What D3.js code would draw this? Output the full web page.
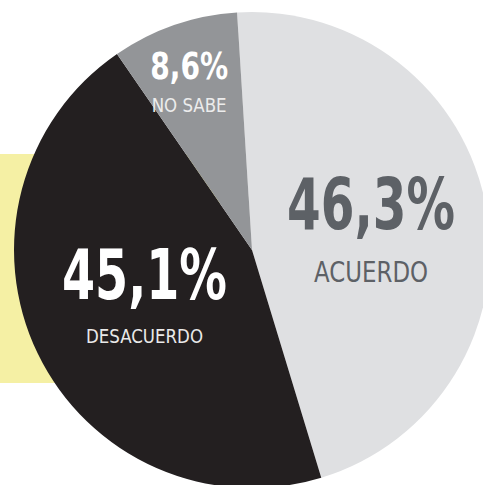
<!DOCTYPE html>
<html lang="es">
<head>
  <meta charset="utf-8">
  <title>Acuerdo / Desacuerdo</title>
  <script src="https://d3js.org/d3.v7.min.js"></script>
  <style>
    html, body { margin: 0; padding: 0; background: #ffffff; }
    svg { display: block; }
    .big { font-weight: bold; }
    text { font-family: 'Liberation Sans Narrow', 'DejaVu Sans Condensed', 'Roboto', sans-serif; }
  </style>
</head>
<body>
<div id="chart"></div>
<script>
  // data
  const categories = ["ACUERDO", "DESACUERDO", "NO SABE"];
  const values = [46.3, 45.1, 8.6];
  const valueLabels = ["46,3%", "45,1%", "8,6%"];
  const sliceColors = ["#dfe0e2", "#231f20", "#939598"];
  const textColors = ["#5d6166", "#ffffff", "#ffffff"];
  const smallColors = ["#5d6166", "#e9e9e9", "#ececec"];

  const width = 483, height = 485;
  const cx = 252, cy = 250, radius = 238;

  // label layout: radius from centre, nudge, font sizes and widths
  const labelLayout = [
    { r: 121, dx: 0,  dy: 1,  big: 71, bigW: 168, small: 28, smallW: 114, cb: 52, cs: 21 },
    { r: 116, dx: -3, dy: -5, big: 70, bigW: 165, small: 20, smallW: 117, cb: 51, cs: 15 },
    { r: 180, dx: -4, dy: 2,  big: 37, bigW: 78,  small: 19, smallW: 75,  cb: 27, cs: 14 }
  ];

  const svg = d3.select("#chart").append("svg")
    .attr("width", width)
    .attr("height", height);

  // pale yellow band behind the pie
  svg.append("rect")
    .attr("x", 0)
    .attr("y", 154)
    .attr("width", 220)
    .attr("height", 229)
    .attr("fill", "#f5f0a4");

  const start = -3.6 * Math.PI / 180;
  const pie = d3.pie()
    .sort(null)
    .value(d => d)
    .startAngle(start)
    .endAngle(start + 2 * Math.PI);

  const arcs = pie(values);
  const arc = d3.arc().innerRadius(0).outerRadius(radius);

  const g = svg.append("g").attr("transform", `translate(${cx},${cy})`);

  g.selectAll("path.slice")
    .data(arcs)
    .enter().append("path")
    .attr("class", "slice")
    .attr("d", arc)
    .attr("fill", (d, i) => sliceColors[i]);

  // squeeze a text horizontally so it spans exactly w pixels
  function fitText(sel, x, y, w) {
    const len = sel.node().getComputedTextLength();
    sel.attr("transform", `translate(${x},${y}) scale(${w / len},1)`);
  }

  // labels
  arcs.forEach((d, i) => {
    const L = labelLayout[i];
    const mid = (d.startAngle + d.endAngle) / 2;
    const ax = Math.sin(mid) * L.r + L.dx;
    const ay = -Math.cos(mid) * L.r + L.dy;
    const gap = (L.cb + L.cs) * 0.45;
    const H = L.cb + gap + L.cs;

    const big = g.append("text")
      .attr("class", "big")
      .attr("font-size", L.big)
      .attr("fill", textColors[i])
      .text(valueLabels[i]);
    fitText(big, ax - L.bigW / 2, ay - H / 2 + L.cb, L.bigW);

    const small = g.append("text")
      .attr("font-size", L.small)
      .attr("fill", smallColors[i])
      .text(categories[i]);
    fitText(small, ax - L.smallW / 2, ay + H / 2, L.smallW);
  });
</script>
</body>
</html>
